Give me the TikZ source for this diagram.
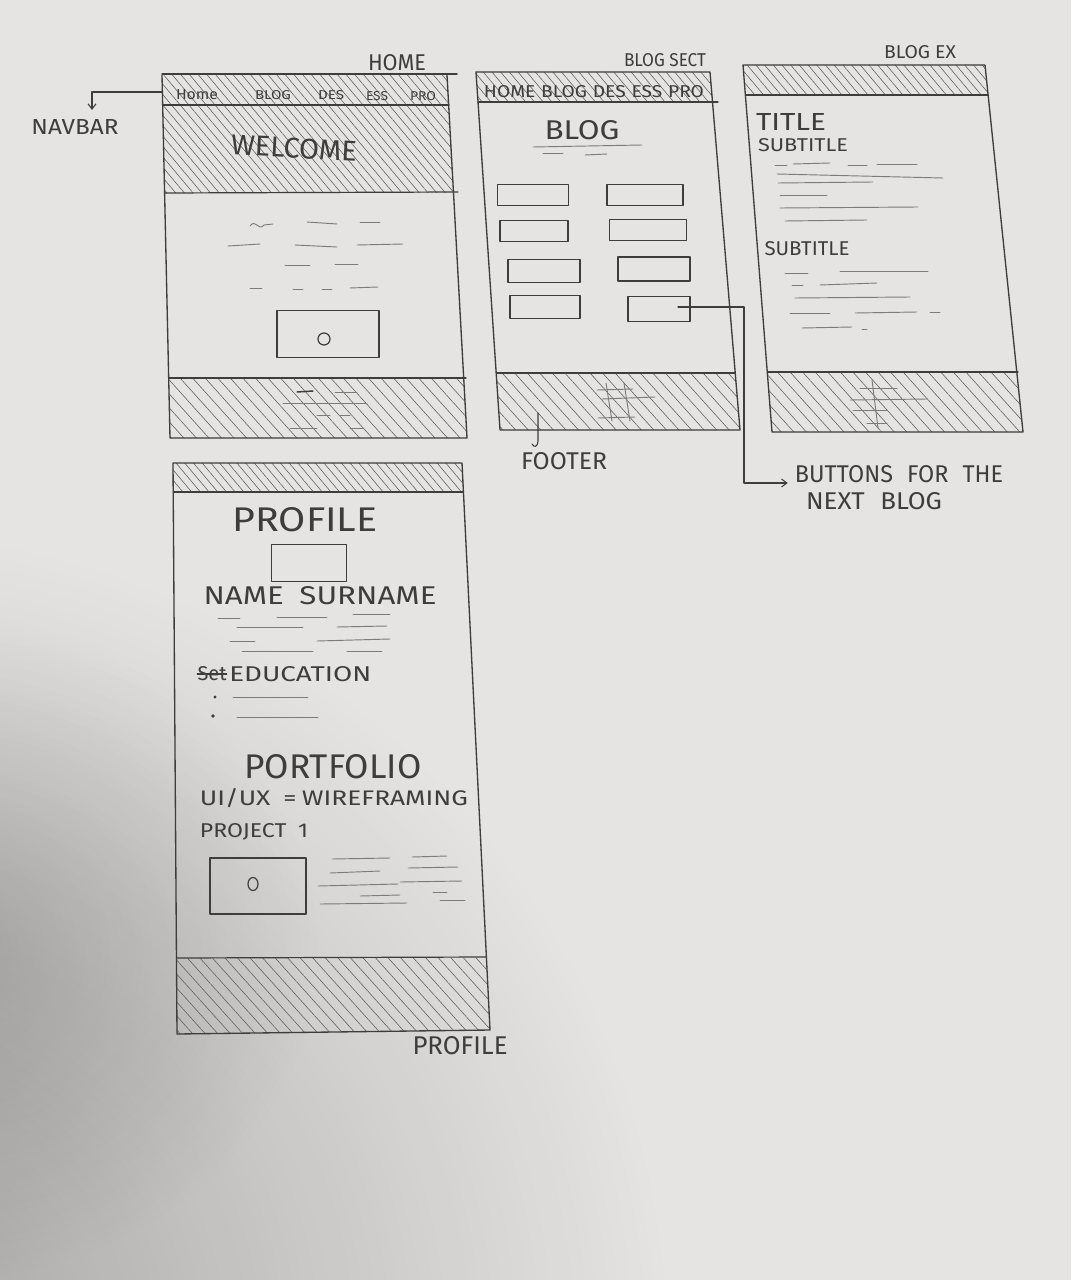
\documentclass[tikz,border=0pt]{standalone}
\usepackage{graphicx}
\usepackage{fontspec}
\setmainfont{Fira Sans}
\usetikzlibrary{patterns.meta,arrows.meta,calc,fadings}

\definecolor{paper}{RGB}{230,228,226}
\definecolor{pencil}{RGB}{62,60,60}
\definecolor{hatchc}{RGB}{100,98,97}
\definecolor{faint}{RGB}{125,123,122}

% one unit of the drawing grid
\newdimen\pxu \pxu=0.75pt
% hand lettering: text squeezed into a box of the given width and height
\newcommand{\hw}[3]{\resizebox{#1\pxu}{#2\pxu}{#3}}

% soft round shadow, dark in the middle and clear at the rim
\tikzfading[name=shadowfade, inner color=transparent!0, outer color=transparent!100]

\tikzset{
  frame/.style={draw=pencil, line width=1pt},
  hatchfine/.style={pattern={Lines[angle=-50, distance=5pt, line width=0.45pt]}, pattern color=hatchc},
  hatchwide/.style={pattern={Lines[angle=-48, distance=7pt, line width=0.45pt]}, pattern color=hatchc},
  sep/.style={draw=pencil, line width=0.9pt},
  scrib/.style={draw=faint, line width=0.7pt},
  box/.style={draw=pencil, line width=1pt},
  hand/.style={inner sep=0pt, text=pencil},
  lead/.style={draw=pencil, line width=0.8pt},
  tipv/.style={-{Straight Barb[length=4pt, width=6pt]}}
}

\begin{document}
\begin{tikzpicture}[x=0.75pt, y=-0.75pt, line cap=round, line join=round]
\useasboundingbox (0,0) rectangle (1071,1280);

% paper and the soft shadow falling over its lower left
\fill[paper] (0,0) rectangle (1071,1280);
\begin{scope}
  \clip (0,0) rectangle (1071,1280);
  \fill[black, opacity=0.28, path fading=shadowfade] (-150,1350) circle (820);
  \fill[black, opacity=0.18, path fading=shadowfade] (-60,950) ellipse (380 and 330);
\end{scope}

% ---------------- HOME ----------------
\fill[hatchfine] (162,75) -- (447,75) -- (453.5,193) -- (164.6,193) -- cycle;
\fill[hatchwide] (168.7,378) -- (463.7,378) -- (467,438) -- (170,438) -- cycle;
\draw[frame] (162,75) -- (170,438) -- (467,438) -- (447,75);
\draw[frame] (162,74) -- (457,74);
\draw[sep] (162.7,105) -- (449,105);
\draw[sep] (164.6,193) -- (458,192);
\draw[sep] (168.7,378) -- (466,378);

\node[hand] (hometitle) at (397,63) {\hw{58}{16}{HOME}};
\node[hand] (hn1) at (197,95) {\hw{42}{10}{Home}};
\node[hand] (hn2) at (273,95) {\hw{36}{9}{BLOG}};
\node[hand] (hn3) at (331,95) {\hw{26}{9}{DES}};
\node[hand] (hn4) at (377,96) {\hw{22}{9}{ESS}};
\node[hand] (hn5) at (423,96) {\hw{26}{9}{PRO}};
\node[hand, rotate=-3] (welcome) at (294,148) {\hw{126}{20}{WELCOME}};

% copy lines
\draw[scrib] (250,226) .. controls (256,218) and (258,232) .. (264,225) -- (273,224);
\draw[scrib] (307,222) -- (337,224);  \draw[scrib] (360,222) -- (380,222);
\draw[scrib] (228,246) -- (260,244);  \draw[scrib] (295,245) -- (337,247);  \draw[scrib] (357,245) -- (403,244);
\draw[scrib] (285,265) -- (310,265);  \draw[scrib] (335,264) -- (358,264);
\draw[scrib] (250,288) -- (262,288);  \draw[scrib] (293,289) -- (303,289);
\draw[scrib] (322,289) -- (332,289);  \draw[scrib] (350,288) -- (378,287);

\node[box, minimum width=102\pxu, minimum height=47\pxu, inner sep=0pt] (homebtn) at (328,334) {};
\draw[pencil, line width=0.9pt] (324,339) circle (6);

% footer marks
\draw[pencil, line width=1.1pt] (297,392) -- (313,391);
\draw[scrib] (335,392) -- (357,392);
\draw[scrib] (283,403) -- (367,403);
\draw[scrib] (317,415) -- (330,415);  \draw[scrib] (340,415) -- (350,415);
\draw[scrib] (290,428) -- (317,428);  \draw[scrib] (350,428) -- (363,428);

% navbar callout
\node[hand] (navlabel) at (75,127) {\hw{87}{15}{NAVBAR}};
\coordinate (navedge) at (162,92);
\coordinate (navtip) at (92,110);
\draw[lead, tipv] (navedge) -| (navtip);

% ---------------- BLOG SECTION ----------------
\fill[hatchfine] (476,72) -- (710,72) -- (712.5,102) -- (478,102) -- cycle;
\fill[hatchwide] (496.2,373) -- (735.2,373) -- (740,430) -- (500,430) -- cycle;
\draw[frame] (476,72) -- (710,72) -- (740,430) -- (500,430) -- cycle;
\draw[sep] (478,102) -- (718,102);
\draw[sep] (496.2,373) -- (735.2,373);

\node[hand] (blogtitle) at (665,60) {\hw{82}{13}{BLOG SECT}};
\node[hand] (bnav) at (594,92) {\hw{220}{12}{HOME\hspace{0.3em}BLOG\hspace{0.3em}DES\hspace{0.3em}ESS\hspace{0.3em}PRO}};
\node[hand] (blogh) at (582,130) {\hw{75}{19}{BLOG}};
\draw[scrib] (533,147) -- (642,145);
\draw[scrib] (543,153) -- (563,153);  \draw[scrib] (585,155) -- (607,154);

% post buttons, two columns
\node[box, minimum width=71\pxu, minimum height=21\pxu, inner sep=0pt] (b1) at (533,195) {};
\node[box, minimum width=68\pxu, minimum height=21\pxu, inner sep=0pt] (b2) at (534,231) {};
\node[box, minimum width=72\pxu, minimum height=23\pxu, inner sep=0pt] (b3) at (544,271) {};
\node[box, minimum width=70\pxu, minimum height=23\pxu, inner sep=0pt] (b4) at (545,307) {};
\node[box, minimum width=76\pxu, minimum height=21\pxu, inner sep=0pt] (b5) at (645,195) {};
\node[box, minimum width=77\pxu, minimum height=21\pxu, inner sep=0pt] (b6) at (648,230) {};
\node[box, minimum width=72\pxu, minimum height=24\pxu, inner sep=0pt] (b7) at (654,269) {};
\node[box, minimum width=62\pxu, minimum height=25\pxu, inner sep=0pt] (b8) at (659,309) {};

% footer grid
\draw[scrib] (597,390) -- (633,389);
\draw[scrib] (602,399) -- (655,397);
\draw[scrib] (598,418) -- (635,417);
\draw[scrib] (606,383) -- (612,421);
\draw[scrib] (624,383) -- (630,421);

% footer callout
\node[hand] (footlabel) at (564,461) {\hw{86}{17}{FOOTER}};
\coordinate (footsrc) at (538,413);
\draw[lead] (footsrc) -- (538,441) .. controls (538,447) and (534,448) .. (532,444);

% next-post callout
\node[hand] (nextlabel) at (899,474) {\hw{208}{17}{BUTTONS\hspace{0.6em}FOR\hspace{0.6em}THE}};
\node[hand] (nextlabel2) at (874,501) {\hw{136}{17}{NEXT\hspace{0.6em}BLOG}};
\coordinate (btnsrc) at (678,307);
\draw[lead, -{Straight Barb[length=4pt, width=6pt]}] (btnsrc) -- (744,307) -- (744,483) -- ([xshift=-7\pxu]nextlabel.west |- 0,483);

% ---------------- BLOG POST ----------------
\fill[hatchfine] (743,65) -- (985,65) -- (988.1,95) -- (745.4,95) -- cycle;
\fill[hatchwide] (767.3,372) -- (1016.8,372) -- (1023,432) -- (772,432) -- cycle;
\draw[frame] (743,65) -- (985,65) -- (1023,432) -- (772,432) -- cycle;
\draw[sep] (745.4,95) -- (988.1,95);
\draw[sep] (767.3,372) -- (1018,372);

\node[hand] (extitle) at (920,52) {\hw{72}{13}{BLOG EX}};
\node[hand] (posttitle) at (791,122) {\hw{70}{17}{TITLE}};
\node[hand] (sub1) at (803,145) {\hw{90}{13}{SUBTITLE}};
\draw[scrib] (775,165) -- (787,165);  \draw[scrib] (793,164) -- (830,163);
\draw[scrib] (848,165) -- (867,165);  \draw[scrib] (877,164) -- (917,164);
\draw[scrib] (777,174) -- (943,178);
\draw[scrib] (778,183) -- (873,182);
\draw[scrib] (780,195) -- (827,195);
\draw[scrib] (780,208) -- (918,207);
\draw[scrib] (785,221) -- (867,220);
\node[hand] (sub2) at (807,249) {\hw{85}{14}{SUBTITLE}};
\draw[scrib] (785,273) -- (808,273);  \draw[scrib] (840,271) -- (928,271);
\draw[scrib] (792,285) -- (803,285);  \draw[scrib] (820,285) -- (877,283);
\draw[scrib] (795,298) -- (910,297);
\draw[scrib] (790,313) -- (830,313);  \draw[scrib] (855,313) -- (917,312);  \draw[scrib] (930,312) -- (940,312);
\draw[scrib] (802,328) -- (852,327);  \draw[scrib] (862,329) -- (867,329);

% footer grid
\draw[scrib] (860,388) -- (897,388);
\draw[scrib] (850,400) -- (927,399);
\draw[scrib] (853,410) -- (887,410);
\draw[scrib] (867,423) -- (887,423);
\draw[scrib] (872,380) -- (878,428);

% ---------------- PROFILE ----------------
\fill[hatchfine] (173,463) -- (462,463) -- (463.4,492) -- (173.2,492) -- cycle;
\fill[hatchwide] (176.5,958) -- (486.3,958) -- (490,1030) -- (177,1034) -- cycle;
\draw[frame] (173,463) -- (462,463) -- (490,1030) -- (177,1034) -- cycle;
\draw[sep] (173.2,492) -- (463.4,492);
\draw[sep] (176.5,958) -- (486.3,957);

\node[hand] (proftitle) at (305,520) {\hw{145}{24}{PROFILE}};
\node[box, minimum width=75\pxu, minimum height=37\pxu, inner sep=0pt] (photo) at (309,563) {};
\node[hand] (name) at (320,596) {\hw{233}{18}{NAME\hspace{0.5em}SURNAME}};
\draw[scrib] (218,618) -- (240,618);  \draw[scrib] (277,617) -- (327,617);  \draw[scrib] (353,614) -- (390,614);
\draw[scrib] (237,627) -- (303,627);  \draw[scrib] (337,627) -- (387,626);
\draw[scrib] (230,641) -- (255,641);  \draw[scrib] (317,641) -- (390,639);
\draw[scrib] (242,651) -- (313,651);  \draw[scrib] (347,651) -- (382,651);

\node[hand] (struck) at (212,674) {\hw{29}{14}{Set}};
\draw[pencil, line width=0.8pt] (struck.west) -- (struck.east);
\node[hand, anchor=west] (edu) at (229,674) {\hw{142}{15}{EDUCATION}};
\fill[pencil] (215,697) circle (1.6);
\fill[pencil] (213,716) circle (1.8);
\draw[scrib] (233,697) -- (308,697);
\draw[scrib] (237,717) -- (318,717);

\node[hand] (portfolio) at (333,767) {\hw{177}{24}{PORTFOLIO}};
\node[hand] (uiux) at (334,798) {\hw{268}{17}{UI/UX\hspace{0.5em}=\hspace{0.2em}WIREFRAMING}};
\node[hand] (project) at (254,832) {\hw{108}{14}{PROJECT\hspace{0.5em}1}};
\node[box, minimum width=96\pxu, minimum height=56\pxu, inner sep=0pt] (projimg) at (258,886) {};
\draw[pencil, line width=0.9pt] (253,884) ellipse (5 and 6.5);
\draw[scrib] (332,859) -- (390,858);  \draw[scrib] (412,857) -- (447,856);
\draw[scrib] (330,873) -- (380,871);  \draw[scrib] (408,868) -- (458,867);
\draw[scrib] (318,886) -- (398,884);  \draw[scrib] (400,882) -- (462,881);
\draw[scrib] (360,896) -- (400,895);  \draw[scrib] (433,892) -- (447,892);
\draw[scrib] (320,904) -- (407,903);  \draw[scrib] (440,900) -- (465,900);

\node[hand] (proflabel) at (460,1046) {\hw{95}{18}{PROFILE}};

\end{tikzpicture}
\end{document}
